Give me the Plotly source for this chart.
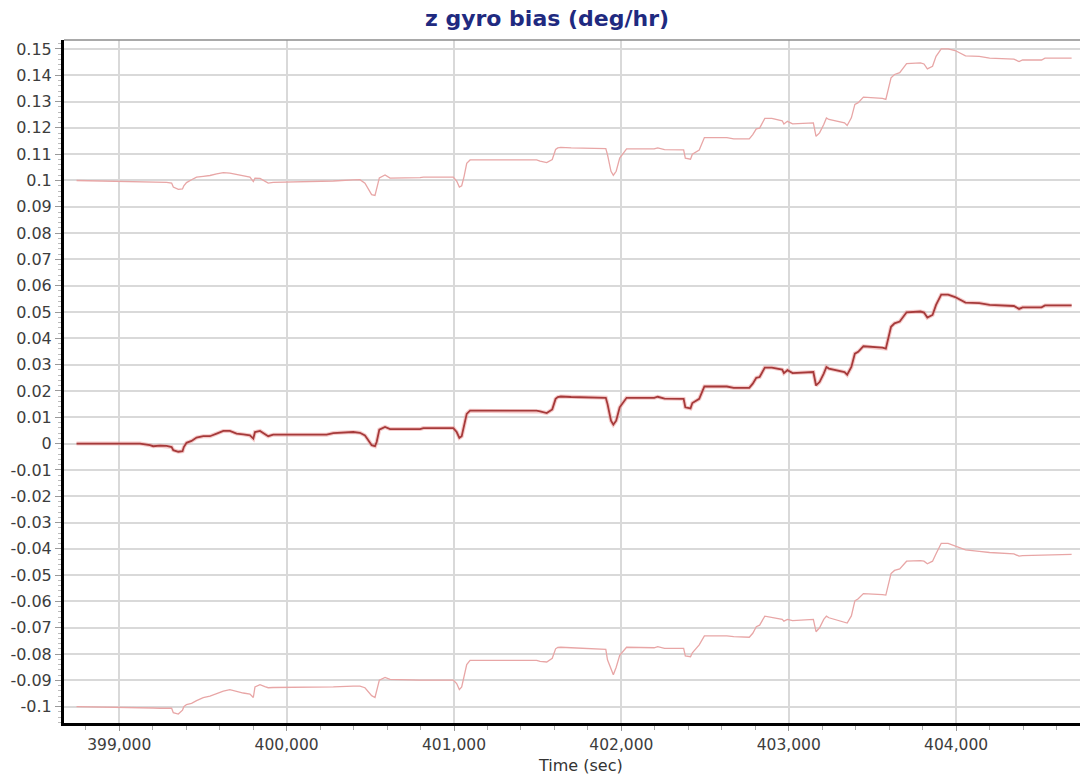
import plotly.graph_objects as go

# ---- data ----
time_sec = [398745, 399124, 399183, 399203, 399243, 399283, 399313, 399323, 399353, 399378,
            399386, 399402, 399432, 399462, 399502, 399542, 399582, 399622, 399661, 399701,
            399741, 399781, 399801, 399811, 399841, 399870, 399890, 399920, 400040, 400239,
            400279, 400398, 400438, 400468, 400488, 400508, 400528, 400538, 400554, 400588,
            400618, 400797, 400817, 400996, 401016, 401032, 401046, 401060, 401076, 401096,
            401240, 401494, 401514, 401554, 401587, 401607, 401620, 401638, 401700, 401907,
            401917, 401938, 401952, 401969, 401990, 402031, 402196, 402217, 402258, 402372,
            402382, 402413, 402424, 402465, 402496, 402630, 402671, 402764, 402785, 402806,
            402826, 402857, 402899, 402961, 402971, 402992, 403023, 403147, 403163, 403184,
            403209, 403225, 403240, 403333, 403349, 403374, 403395, 403415, 403446, 403560,
            403580, 403611, 403632, 403663, 403704, 403787, 403808, 403828, 403859, 403880,
            403911, 403952, 403994, 404056, 404138, 404200, 404345, 404376, 404397, 404510,
            404531, 404690]

bias = [0, 0, -0.0006, -0.001, -0.0008, -0.0009, -0.0013, -0.0025, -0.0031, -0.0029,
        -0.0013, 0.0003, 0.001, 0.0023, 0.0028, 0.0028, 0.0038, 0.0048, 0.0048, 0.0038,
        0.0035, 0.0031, 0.0019, 0.0044, 0.0048, 0.0038, 0.0028, 0.0034, 0.0034, 0.0034,
        0.004, 0.0044, 0.0041, 0.0031, 0.0013, -0.0006, -0.001, 0.0006, 0.0053, 0.0063,
        0.0055, 0.0055, 0.0059, 0.0059, 0.0044, 0.0022, 0.0028, 0.0063, 0.0113, 0.0125,
        0.0125, 0.0125, 0.0122, 0.0116, 0.0130, 0.0170, 0.0177, 0.0179, 0.0177, 0.0174,
        0.0151, 0.0087, 0.0072, 0.0087, 0.0138, 0.0174, 0.0174, 0.0178, 0.0171, 0.0170,
        0.0138, 0.0134, 0.0154, 0.0170, 0.0217, 0.0217, 0.0212, 0.0212, 0.0228, 0.0250,
        0.0253, 0.0289, 0.0289, 0.0281, 0.0268, 0.0279, 0.0268, 0.0272, 0.0221, 0.0234,
        0.0266, 0.0291, 0.0285, 0.0272, 0.0262, 0.0291, 0.0342, 0.0349, 0.0370, 0.0365,
        0.0361, 0.0444, 0.0457, 0.0464, 0.0499, 0.0502, 0.0498, 0.0479, 0.0489, 0.0527,
        0.0566, 0.0566, 0.0557, 0.0536, 0.0534, 0.0527, 0.0523, 0.0512, 0.0518, 0.0518,
        0.0525, 0.0525]

upper_bound = [0.1, 0.0996, 0.0995, 0.0994, 0.0994, 0.0993, 0.0990, 0.0975, 0.0966, 0.0968,
               0.0980, 0.0992, 0.1003, 0.1013, 0.1016, 0.1019, 0.1025, 0.1030, 0.1028, 0.1023,
               0.1019, 0.1013, 0.0996, 0.1009, 0.1008, 0.0998, 0.0990, 0.0993, 0.0994, 0.0996,
               0.0998, 0.1002, 0.1003, 0.0990, 0.0965, 0.0946, 0.0943, 0.0965, 0.1010, 0.1021,
               0.1009, 0.1011, 0.1013, 0.1013, 0.0998, 0.0975, 0.0980, 0.1015, 0.1065, 0.1078,
               0.1078, 0.1078, 0.1074, 0.1068, 0.1080, 0.1118, 0.1124, 0.1126, 0.1124, 0.1121,
               0.1098, 0.1035, 0.1020, 0.1035, 0.1085, 0.1120, 0.1120, 0.1124, 0.1117, 0.1116,
               0.1085, 0.1081, 0.1100, 0.1116, 0.1163, 0.1163, 0.1158, 0.1158, 0.1174, 0.1196,
               0.1199, 0.1236, 0.1236, 0.1227, 0.1215, 0.1225, 0.1215, 0.1219, 0.1168, 0.1181,
               0.1213, 0.1238, 0.1232, 0.1219, 0.1209, 0.1238, 0.1289, 0.1296, 0.1317, 0.1312,
               0.1308, 0.1390, 0.1403, 0.1410, 0.1444, 0.1447, 0.1443, 0.1424, 0.1434, 0.1472,
               0.1500, 0.1500, 0.1494, 0.1474, 0.1472, 0.1465, 0.1461, 0.1452, 0.1458, 0.1458,
               0.1465, 0.1465]

lower_bound = [-0.1, -0.1002, -0.1004, -0.1005, -0.1006, -0.1005, -0.1006, -0.1023, -0.1028, -0.1013,
               -0.1000, -0.0992, -0.0987, -0.0977, -0.0966, -0.0960, -0.0950, -0.0941, -0.0935, -0.0943,
               -0.0948, -0.0952, -0.0965, -0.0925, -0.0916, -0.0924, -0.0928, -0.0927, -0.0927, -0.0927,
               -0.0925, -0.0922, -0.0922, -0.0928, -0.0945, -0.0958, -0.0965, -0.0940, -0.0899, -0.0889,
               -0.0896, -0.0899, -0.0899, -0.0899, -0.0912, -0.0935, -0.0925, -0.0880, -0.0840, -0.0824,
               -0.0824, -0.0824, -0.0828, -0.0830, -0.0816, -0.0780, -0.0775, -0.0774, -0.0776, -0.0782,
               -0.0822, -0.0860, -0.0879, -0.0850, -0.0805, -0.0774, -0.0776, -0.0772, -0.0778, -0.0778,
               -0.0807, -0.0810, -0.0795, -0.0765, -0.0731, -0.0731, -0.0734, -0.0736, -0.0721, -0.0696,
               -0.0690, -0.0656, -0.0661, -0.0668, -0.0675, -0.0668, -0.0673, -0.0668, -0.0715, -0.0700,
               -0.0668, -0.0656, -0.0662, -0.0677, -0.0682, -0.0655, -0.0598, -0.0590, -0.0570, -0.0574,
               -0.0576, -0.0494, -0.0482, -0.0476, -0.0447, -0.0445, -0.0447, -0.0457, -0.0447, -0.0419,
               -0.0379, -0.0379, -0.0390, -0.0404, -0.0410, -0.0414, -0.0419, -0.0428, -0.0426, -0.0424,
               -0.0421, -0.0421]

x_tick_vals = [399000, 400000, 401000, 402000, 403000, 404000]
x_tick_text = ["399,000", "400,000", "401,000", "402,000", "403,000", "404,000"]

y_tick_vals = [0.15, 0.14, 0.13, 0.12, 0.11, 0.1, 0.09, 0.08, 0.07, 0.06, 0.05, 0.04, 0.03,
               0.02, 0.01, 0, -0.01, -0.02, -0.03, -0.04, -0.05, -0.06, -0.07, -0.08, -0.09, -0.1]
y_tick_text = ["0.15", "0.14", "0.13", "0.12", "0.11", "0.1", "0.09", "0.08", "0.07", "0.06",
               "0.05", "0.04", "0.03", "0.02", "0.01", "0", "-0.01", "-0.02", "-0.03", "-0.04",
               "-0.05", "-0.06", "-0.07", "-0.08", "-0.09", "-0.1"]

assert len(time_sec) == len(bias) == len(upper_bound) == len(lower_bound)

FONT = "DejaVu Sans"
TICK_COLOR_TXT = "#3d3d3d"

fig = go.Figure()
fig.add_trace(go.Scatter(x=time_sec, y=upper_bound, mode="lines",
                         line=dict(color="#e8a6a6", width=1.3), hoverinfo="skip", showlegend=False))
fig.add_trace(go.Scatter(x=time_sec, y=lower_bound, mode="lines",
                         line=dict(color="#e8a6a6", width=1.3), hoverinfo="skip", showlegend=False))
# soft halo under the main line
fig.add_trace(go.Scatter(x=time_sec, y=bias, mode="lines",
                         line=dict(color="rgba(235,150,150,0.5)", width=4), hoverinfo="skip",
                         showlegend=False))
fig.add_trace(go.Scatter(x=time_sec, y=bias, mode="lines",
                         line=dict(color="#a63a3a", width=1.8), showlegend=False))

fig.update_layout(
    width=1084, height=780,
    margin=dict(l=64, r=4, t=40, b=57),
    paper_bgcolor="white", plot_bgcolor="white",
    title=dict(text="<b>z gyro bias (deg/hr)</b>", x=547 / 1084, xanchor="center",
               y=1 - 18 / 780, yanchor="middle", yref="container",
               font=dict(family=FONT, size=22, color="#1f2a80")),
    font=dict(family=FONT, size=16, color=TICK_COLOR_TXT),
    xaxis=dict(
        range=[398670, 404740], automargin=False,
        tickmode="array", tickvals=x_tick_vals, ticktext=x_tick_text,
        showgrid=True, gridcolor="#d9d9d9", gridwidth=2,
        showline=True, linecolor="black", linewidth=3,
        ticks="outside", ticklen=5, tickcolor="#999999", tickwidth=1,
        minor=dict(dtick=200, tick0=399000, ticks="outside", ticklen=4,
                   tickcolor="#aaaaaa", showgrid=False),
        zeroline=False,
        tickfont=dict(family=FONT, size=15.5, color=TICK_COLOR_TXT),
    ),
    yaxis=dict(
        range=[-0.1062, 0.1534], automargin=False,
        tickmode="array", tickvals=y_tick_vals, ticktext=y_tick_text,
        showgrid=True, gridcolor="#d9d9d9", gridwidth=2,
        showline=True, linecolor="black", linewidth=3,
        ticks="outside", ticklen=6, tickcolor="#999999", tickwidth=1,
        minor=dict(dtick=0.002, tick0=0, ticks="outside", ticklen=3,
                   tickcolor="#bbbbbb", showgrid=False),
        zeroline=False,
        tickfont=dict(family=FONT, size=16, color=TICK_COLOR_TXT),
    ),
    shapes=[dict(type="line", xref="paper", yref="paper", x0=0, x1=1, y0=1, y1=1,
                 line=dict(color="#8c8c8c", width=1.5))],
    annotations=[dict(text="Time (sec)", xref="paper", yref="paper",
                      x=(580 - 64) / 1016, y=(723 - 765) / 683,
                      xanchor="center", yanchor="middle", showarrow=False,
                      font=dict(family=FONT, size=16, color="#333333"))],
)

fig.write_html("out.html", config={"displayModeBar": False},
               post_script="document.body.style.margin='0px';document.body.style.overflow='hidden';")
